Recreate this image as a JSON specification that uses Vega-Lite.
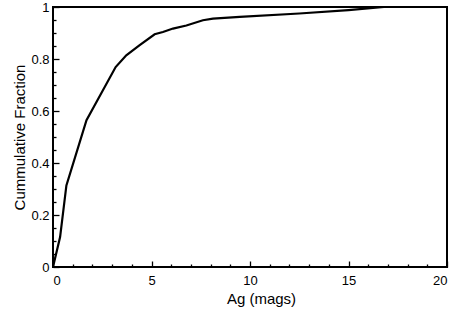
{
  "$schema": "https://vega.github.io/schema/vega-lite/v6.json",
  "width": 394,
  "height": 260,
  "autosize": "none",
  "padding": {"left": 53, "top": 7, "right": 6, "bottom": 53},
  "background": "white",
  "config": {
    "font": "Liberation Sans",
    "view": {"stroke": "black", "strokeWidth": 2},
    "axis": {"grid": false, "domain": false, "labelColor": "black", "titleColor": "black", "tickColor": "black", "tickWidth": 1.3, "labelFont": "Liberation Sans", "titleFont": "Liberation Sans", "titleFontWeight": "normal"}
  },
  "data": {
    "values": [
      {"mag": 0, "frac": 0},
      {"mag": 0.36, "frac": 0.115},
      {"mag": 0.68, "frac": 0.314},
      {"mag": 1.7, "frac": 0.565},
      {"mag": 3.18, "frac": 0.769},
      {"mag": 3.72, "frac": 0.814},
      {"mag": 4.4, "frac": 0.853},
      {"mag": 5.16, "frac": 0.895},
      {"mag": 5.58, "frac": 0.904},
      {"mag": 6.09, "frac": 0.917},
      {"mag": 6.77, "frac": 0.929},
      {"mag": 7.61, "frac": 0.949},
      {"mag": 8.12, "frac": 0.955},
      {"mag": 9.48, "frac": 0.962},
      {"mag": 12.5, "frac": 0.975},
      {"mag": 15, "frac": 0.988},
      {"mag": 16.8, "frac": 1},
      {"mag": 20, "frac": 1}
    ]
  },
  "layer": [
    {
      "mark": {"type": "line", "color": "black", "strokeWidth": 2.2, "clip": true},
      "encoding": {
        "x": {"field": "mag", "type": "quantitative", "scale": {"domain": [0, 20], "nice": false, "zero": false},
          "axis": {"orient": "bottom", "values": [0, 5, 10, 15, 20], "tickSize": -6, "labelPadding": 13, "labelFontSize": 13, "title": "Ag (mags)", "titleFontSize": 15, "titlePadding": 4, "titleX": 208}},
        "y": {"field": "frac", "type": "quantitative", "scale": {"domain": [0, 1], "nice": false},
          "axis": {"orient": "left", "values": [0, 0.2, 0.4, 0.6, 0.8, 1], "format": "~g", "tickSize": -6, "labelPadding": 10, "labelFontSize": 13, "title": "Cummulative Fraction", "titleFontSize": 15, "titlePadding": 3}}
      }
    },
    {
      "mark": {"type": "line", "opacity": 0},
      "encoding": {
        "x": {"field": "mag", "type": "quantitative",
          "axis": {"orient": "bottom", "values": [1, 2, 3, 4, 6, 7, 8, 9, 11, 12, 13, 14, 16, 17, 18, 19], "tickSize": -3, "labels": false, "title": null}},
        "y": {"field": "frac", "type": "quantitative",
          "axis": {"orient": "left", "values": [0.05, 0.1, 0.15, 0.25, 0.3, 0.35, 0.45, 0.5, 0.55, 0.65, 0.7, 0.75, 0.85, 0.9, 0.95], "tickSize": -3, "labels": false, "title": null}}
      }
    }
  ],
  "resolve": {"axis": {"x": "independent", "y": "independent"}}
}
